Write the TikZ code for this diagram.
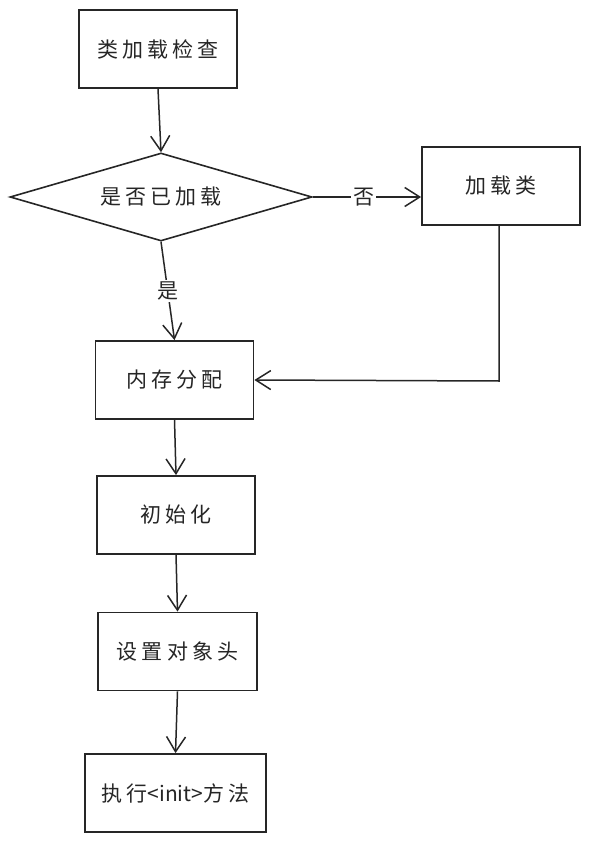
\documentclass[tikz,border=0pt]{standalone}
\usepackage{fontspec}
\newfontfamily\cjk[LetterSpace=20]{Noto Sans CJK SC}
\newfontfamily\cjkplain{Noto Sans CJK SC}
\usetikzlibrary{arrows.meta,shapes.geometric}
\begin{document}
\begin{tikzpicture}[x=1pt,y=-1pt,
  every node/.style={font=\cjk\fontsize{21}{24}\selectfont,text=black!85},
  stepbox/.style={draw=black!85,line width=1.8pt,minimum width=158pt,minimum height=78pt,inner sep=0pt,fill=white},
  decide/.style={draw=black!85,line width=1.6pt,diamond,aspect=3.45,minimum width=302pt,minimum height=88pt,inner sep=0pt},
  conn/.style={draw=black!85,line width=1.5pt,-{Straight Barb[length=15pt,width=19pt,line width=1.5pt]}},
  lbl/.style={fill=white,inner sep=2pt}]
\useasboundingbox (0,0) rectangle (590,842);
\node[stepbox] (check) at (158,49) {类加载检查};
\node[decide] (loaded) at (161,197) {是否已加载};
\node[stepbox] (load) at (501,186) {加载类};
\node[stepbox] (mem) at (174.5,380) {内存分配};
\node[stepbox] (init) at (176,515) {初始化};
\node[stepbox,minimum width=159pt] (head) at (177.5,651.5) {设置对象头};
\node[stepbox,minimum width=181pt] (run) at (175.5,793) {执行{\cjkplain <init>}方法};
\coordinate (corner) at (499,381);
\draw[conn] (check.south) -- (loaded.north);
\draw[conn] (loaded.east) -- node[lbl,pos=0.47] (no) {否} (load.west |- loaded.east);
\draw[conn] (loaded.south) -- node[lbl,pos=0.5] (yes) {是} (mem.north);
\draw[conn] (load.south -| corner) -- (corner) -- (mem.east);
\draw[conn] (mem.south) -- (init.north);
\draw[conn] (init.south) -- (head.north);
\draw[conn] (head.south) -- (run.north);
\end{tikzpicture}
\end{document}
